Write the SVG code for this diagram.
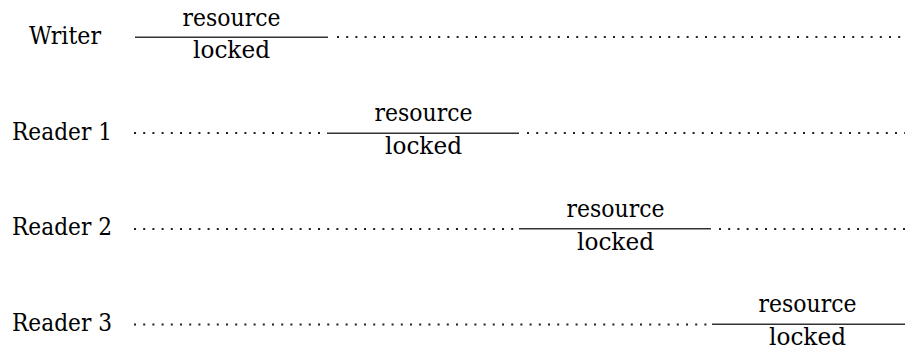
<svg xmlns="http://www.w3.org/2000/svg" width="905" height="352" viewBox="0 0 905 352">
<style>
text{font-family:'DejaVu Serif',serif;font-size:24px;fill:#000}
.c{text-anchor:middle}
.solid{stroke:#333;stroke-width:1.4;fill:none}
.dot{stroke:#222;stroke-width:2;stroke-dasharray:2 7.2;fill:none}
</style>
<rect width="905" height="352" fill="#fff"/>
<g id="labels">
<text x="29" y="43.5" textLength="72" lengthAdjust="spacingAndGlyphs">Writer</text>
<text x="12" y="139.5" textLength="100" lengthAdjust="spacingAndGlyphs">Reader 1</text>
<text x="12" y="235" textLength="100" lengthAdjust="spacingAndGlyphs">Reader 2</text>
<text x="12" y="330.5" textLength="100" lengthAdjust="spacingAndGlyphs">Reader 3</text>
</g>
<g id="connectors">
<line class="dot" x1="337" y1="37" x2="905" y2="37"/>
<line class="dot" x1="134" y1="133" x2="326" y2="133"/>
<line class="dot" x1="527" y1="133" x2="905" y2="133"/>
<line class="dot" x1="134" y1="229" x2="518" y2="229"/>
<line class="dot" x1="719" y1="229" x2="905" y2="229"/>
<line class="dot" x1="134" y1="324.5" x2="710" y2="324.5"/>
</g>
<g id="writer-lock">
<line class="solid" x1="135" y1="37.3" x2="328" y2="37.3"/>
<text class="c" x="231.5" y="25.5" textLength="98" lengthAdjust="spacingAndGlyphs">resource</text>
<text class="c" x="231.5" y="58.3" textLength="77" lengthAdjust="spacingAndGlyphs">locked</text>
</g>
<g id="reader1-lock">
<line class="solid" x1="327" y1="133.3" x2="519" y2="133.3"/>
<text class="c" x="423.5" y="121.3" textLength="98" lengthAdjust="spacingAndGlyphs">resource</text>
<text class="c" x="423.5" y="154" textLength="77" lengthAdjust="spacingAndGlyphs">locked</text>
</g>
<g id="reader2-lock">
<line class="solid" x1="519" y1="228.8" x2="711" y2="228.8"/>
<text class="c" x="615.5" y="216.8" textLength="98" lengthAdjust="spacingAndGlyphs">resource</text>
<text class="c" x="615.5" y="249.5" textLength="77" lengthAdjust="spacingAndGlyphs">locked</text>
</g>
<g id="reader3-lock">
<line class="solid" x1="712" y1="324.3" x2="905" y2="324.3"/>
<text class="c" x="807.5" y="312.3" textLength="98" lengthAdjust="spacingAndGlyphs">resource</text>
<text class="c" x="807.5" y="345" textLength="77" lengthAdjust="spacingAndGlyphs">locked</text>
</g>
</svg>
